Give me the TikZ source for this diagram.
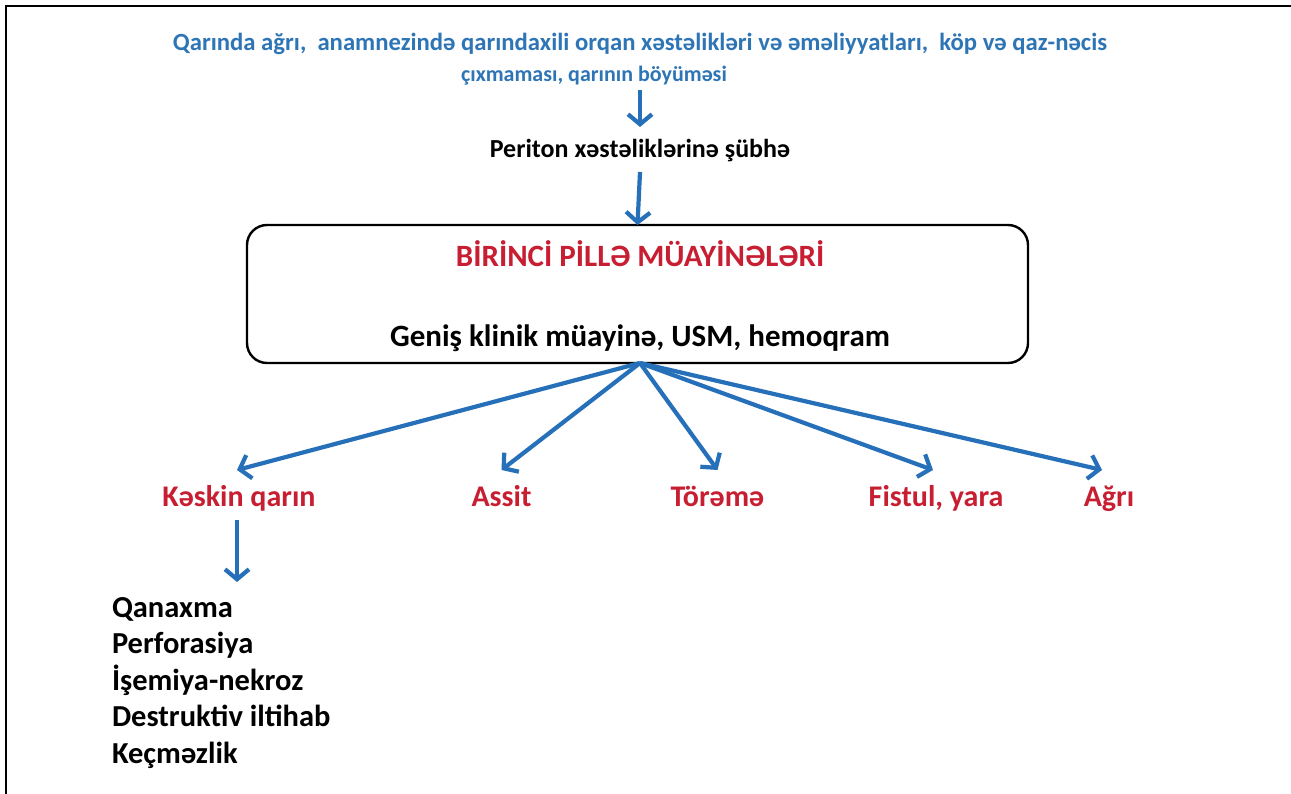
\documentclass[tikz,border=0pt]{standalone}
\usepackage{fontspec}
\setmainfont{Carlito}
\usetikzlibrary{arrows.meta}
\definecolor{myblue}{RGB}{46,117,182}
\definecolor{arrblue}{RGB}{38,112,186}
\definecolor{myred}{RGB}{200,30,50}
\begin{document}
\begin{tikzpicture}[x=1pt,y=-1pt,
  txt/.style={inner sep=0pt,outer sep=0pt,anchor=base,font=\bfseries},
  bluetext/.style={txt,text=myblue,text height=16pt,text depth=6pt},
  pertext/.style={txt,font=\fontsize{26}{30}\selectfont\bfseries,text height=31pt,text depth=14pt},
  redtitle/.style={txt,text=myred,font=\fontsize{31}{36}\selectfont\bfseries},
  bigtext/.style={txt,font=\fontsize{31}{36}\selectfont\bfseries},
  redlabel/.style={txt,text=myred,font=\fontsize{30}{35}\selectfont\bfseries,text height=36pt,text depth=14pt},
  listtext/.style={txt,anchor=base west,font=\fontsize{30.5}{36}\selectfont\bfseries,text height=35pt},
  bigbox/.style={draw=black,line width=2.4pt,rounded corners=20pt,minimum width=781pt,minimum height=138pt,inner sep=0pt,outer sep=0pt},
  arr/.style={draw=arrblue,line width=4.2pt,-{Straight Barb[length=10pt,width=24pt]}}
]
\useasboundingbox (0,0) rectangle (1291,794);
\fill[white] (0,0) rectangle (1291,794);
\draw[line width=1.8pt,black] (6,794) -- (6,6) -- (1291,6);

\node[bluetext,font=\fontsize{24.7}{29}\selectfont\bfseries] (t1) at (640,51) {Qarında ağrı,\ \ anamnezində qarındaxili orqan xəstəlikləri və əməliyyatları,\ \ köp və qaz-nəcis};
\node[bluetext,font=\fontsize{22}{26}\selectfont\bfseries] (t2) at (594,82) {çıxmaması, qarının böyüməsi};
\node[pertext] (per) at (640,158) {Periton xəstəliklərinə şübhə};
\node[bigbox] (box) at (637.5,294) {};
\node[redtitle] (bir) at (640,267) {BİRİNCİ PİLLƏ MÜAYİNƏLƏRİ};
\node[bigtext] (gen) at (640,347) {Geniş klinik müayinə, USM, hemoqram};

\node[redlabel] (kq) at (239,506) {Kəskin qarın};
\node[redlabel] (as) at (501.5,506) {Assit};
\node[redlabel] (to) at (717.5,506) {Törəmə};
\node[redlabel] (fy) at (936,506) {Fistul, yara};
\node[redlabel] (ag) at (1109,506) {Ağrı};

\node[listtext] (l1) at (112,617) {Qanaxma};
\node[listtext] (l2) at (112,653.5) {Perforasiya};
\node[listtext] (l3) at (112,690) {İşemiya-nekroz};
\node[listtext] (l4) at (112,726.5) {Destruktiv iltihab};
\node[listtext] (l5) at (112,763) {Keçməzlik};

\draw[arr,shorten <=2pt] (per.north |- t2.south) -- (per.north);
\draw[arr] (per.south) -- (box.north);
\draw[arr] ([xshift=2.5pt]box.south) -- ([xshift=-2pt]kq.north);
\draw[arr] ([xshift=2.5pt]box.south) -- (as.north);
\draw[arr] ([xshift=2.5pt]box.south) -- (to.north);
\draw[arr] ([xshift=2.5pt]box.south) -- ([xshift=-3pt]fy.north);
\draw[arr] ([xshift=2.5pt]box.south) -- ([xshift=-7pt]ag.north);
\draw[arr] ([xshift=-2pt]kq.south) -- ([xshift=-2pt]kq.south |- l1.north);
\end{tikzpicture}
\end{document}
